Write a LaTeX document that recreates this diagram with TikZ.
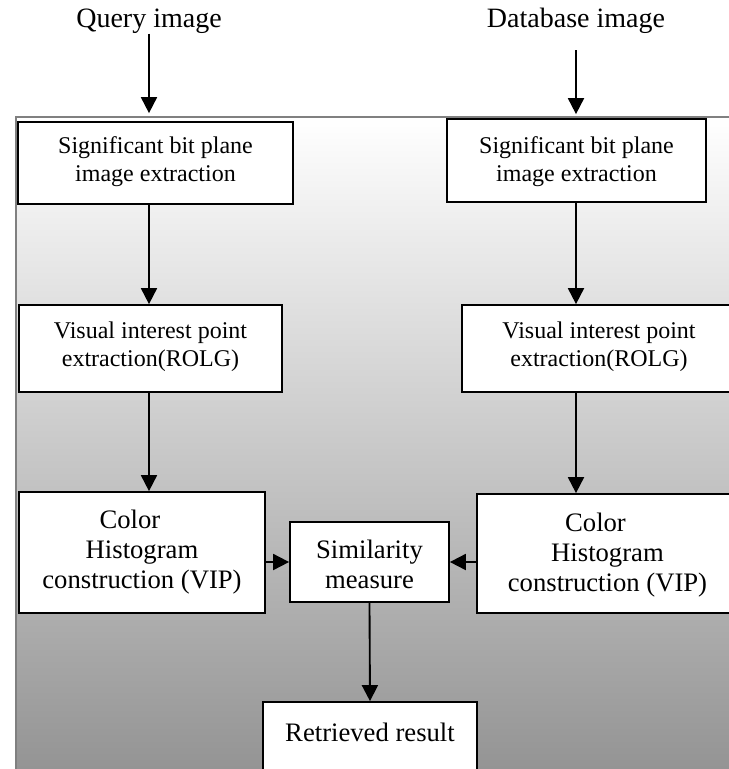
\documentclass[tikz,border=0pt]{standalone}
\usepackage{fontspec}
\setmainfont{Liberation Serif}
\usetikzlibrary{arrows.meta,fit}

\tikzset{
  box/.style={draw, fill=white, line width=1.3pt, inner sep=0pt},
  txt/.style={inner sep=0pt, align=center, font=\fontsize{18}{21}\selectfont},
  wide/.style={font=\fontsize{20}{22.5}\selectfont},
  title/.style={inner sep=0pt, font=\fontsize{21}{24}\selectfont},
  flow/.style={line width=1.4pt, -{Triangle[length=12pt,width=12pt]}},
}

\begin{document}
\begin{tikzpicture}[x=0.75pt, y=-0.75pt]
\useasboundingbox (0,0) rectangle (729,769);
\clip (0,0) rectangle (729,769);
% background panel
\shade[top color=white, bottom color=black!42] (16,117) rectangle (745,769);
\draw[black!50, line width=1.5pt] (16,790) -- (16,117) -- (745,117);

\node[title] (query) at (149,21) {Query image};
\node[title] (dbase) at (576,21) {Database image};

\node[box, fit={(18,122) (293,204)},
  label={[txt, yshift=1pt]center:Significant bit plane\\image extraction}] (qsig) {};
\node[box, fit={(447,119) (706,202)},
  label={[txt, yshift=-1pt]center:Significant bit plane\\image extraction}] (dsig) {};
\node[box, fit={(19,305) (282,392)},
  label={[txt, yshift=1.5pt]center:Visual interest point\\extraction(ROLG)}] (qvip) {};
\node[box, fit={(462,305) (736,392)},
  label={[txt, yshift=1pt]center:Visual interest point\\extraction(ROLG)}] (dvip) {};
\node[box, fit={(19,492) (265,613)},
  label={[txt, wide]center:Color\rule{18pt}{0pt}\\Histogram\\construction (VIP)}] (qhist) {};
\node[box, fit={(477,494) (738,613)},
  label={[txt, wide, yshift=-1pt]center:Color\rule{18pt}{0pt}\\Histogram\\construction (VIP)}] (dhist) {};
\node[box, fit={(290,522) (449,602)},
  label={[txt, wide, yshift=-2pt]center:Similarity\\measure}] (sim) {};
\node[box, fit={(263,702) (477,800)},
  label={[txt, wide, yshift=14pt]center:Retrieved result}] (res) {};

% connectors
\draw[flow, shorten >=6pt] (query.south) -- (qsig.north -| query);
\draw[flow, shorten <=12pt, shorten >=3pt] (dbase.south) -- (dsig.north -| dbase);
\draw[flow] (qsig.south -| query) -- (qvip.north -| query);
\draw[flow] (qvip.south -| query) -- (qhist.north -| query);
\draw[flow] (dsig.south -| dbase) -- (dvip.north -| dbase);
\draw[flow] (dvip.south -| dbase) -- (dhist.north -| dbase);
\draw[flow] (qhist.east |- sim) -- (sim.west);
\draw[flow] (dhist.west |- sim) -- (sim.east);
\draw[flow] (sim.south) -- (res.north);
\end{tikzpicture}
\end{document}
